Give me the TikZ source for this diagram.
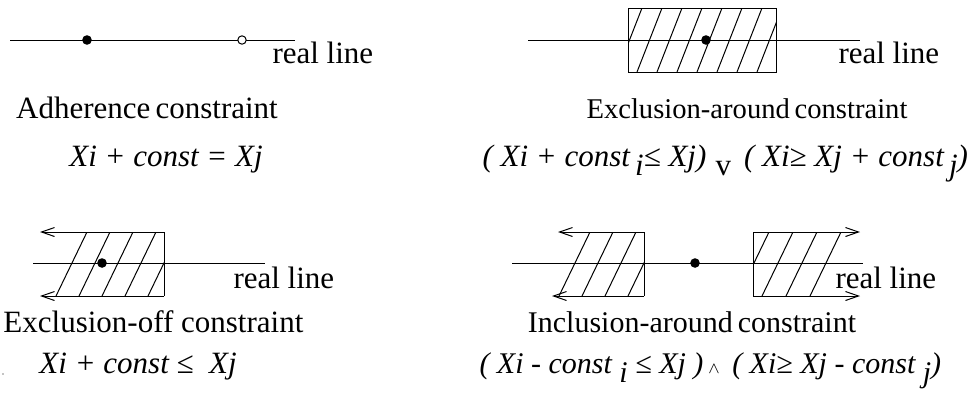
\documentclass[tikz,border=0pt]{standalone}
\usepackage{fontspec}
\setmainfont{Liberation Serif}
\usetikzlibrary{arrows.meta}

\newcommand{\lowered}[1]{\raisebox{-.3em}{#1}}

\begin{document}
\begin{tikzpicture}[x=0.5pt, y=-0.5pt, line width=0.5pt,
    font=\fontsize{15.5}{18}\selectfont,
    dot/.style={circle, fill=black, inner sep=0pt, minimum size=4.8pt},
    hole/.style={circle, draw=black, fill=white, inner sep=0pt, minimum size=4.2pt},
    ray/.style={-{Straight Barb[length=6.5pt,width=4.5pt]}},
    txt/.style={anchor=base, inner sep=0pt}]
  \useasboundingbox (0,0) rectangle (968,398);

  % adherence
  \draw (10,40) -- (295,40);
  \node[dot] (pA) at (87,40) {};
  \node[hole] (qA) at (242,40) {};
  \node[txt, anchor=base west] (lineA) at (272,63) {real line};
  \node[txt] (nameA) at (147,118) {Adherence\,constraint};
  \node[txt] (formA) at (166,166) {\itshape Xi + const = Xj};

  % exclusion-around
  \begin{scope}
    \clip (628,8) rectangle (776,72);
    \foreach \x in {617,637,...,757}
      \draw (\x,72) -- (\x+25,8);
  \end{scope}
  \draw (628,8) rectangle (776,72);
  \draw (528,40) -- (860,40);
  \node[dot] (pB) at (706,40) {};
  \node[txt, anchor=base west] (lineB) at (838,63) {real line};
  \node[txt, font=\fontsize{14.3}{17}\selectfont] (nameB) at (747,118) {Exclusion-around\,constraint};
  \node[txt, anchor=base west] (formB) at (482,166)
    {\itshape ( Xi + const\,\lowered{i}≤ Xj)\hspace{.3em}\lowered{\upshape v}\ \,( Xi≥\ Xj + const\,\lowered{j})};

  % exclusion-off
  \begin{scope}
    \clip (0,232) rectangle (164,296);
    \foreach \x in {56,79,...,148}
      \draw (\x,296) -- (\x+31,232);
  \end{scope}
  \draw[ray] (164,232) -- (40,232);
  \draw[ray] (164,296) -- (40,296);
  \draw (164,232) -- (164,296);
  \draw (33,263) -- (265,263);
  \node[dot] (pC) at (102,263) {};
  \node[txt, anchor=base west] (lineC) at (233,288) {real line};
  \node[txt, anchor=base west] (nameC) at (3,332) {Exclusion-off constraint};
  \node[txt, anchor=base west] (formC) at (39,373) {\itshape Xi + const ≤\ \ Xj};
  \fill (3,374) circle (0.35pt);

  % inclusion-around
  \begin{scope}
    \clip (540,232) rectangle (644,296);
    \foreach \x in {559,582,...,628}
      \draw (\x,296) -- (\x+31,232);
  \end{scope}
  \begin{scope}
    \clip (753,232) rectangle (870,296);
    \foreach \x in {738,762,...,811}
      \draw (\x,296) -- (\x+31,232);
  \end{scope}
  \draw[ray] (644,232) -- (558,232);
  \draw[ray] (644,296) -- (552,296);
  \draw (644,232) -- (644,296);
  \draw[ray] (753,232) -- (860,232);
  \draw[ray] (753,296) -- (860,296);
  \draw (753,232) -- (753,296);
  \draw (512,263) -- (863,263);
  \node[dot] (pD) at (695,263) {};
  \node[txt, anchor=base west] (lineD) at (835,288) {real line};
  \node[txt, font=\fontsize{15}{18}\selectfont] (nameD) at (692,332) {Inclusion-around\,constraint};
  \node[txt, anchor=base west, font=\fontsize{15}{18}\selectfont] (formD) at (479,373)
    {\itshape ( Xi - const \lowered{i} ≤ Xj )\,{\fontsize{8}{8}\selectfont$\wedge$}\, ( Xi≥ Xj - const \lowered{j})};
\end{tikzpicture}
\end{document}
